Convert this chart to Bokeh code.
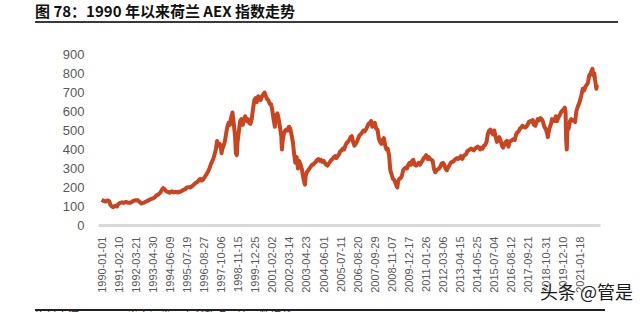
import pandas as pd
from bokeh.plotting import figure
from bokeh.models import Div, FixedTicker, Range1d
from bokeh.layouts import column
from bokeh.embed import file_html
from bokeh.resources import INLINE

title_text = "图 78：1990 年以来荷兰 AEX 指数走势"
source_text = "资料来源：Wind，光大证券研究所整理　注：数据截至 2022-3-10"
watermark_text = "头条 @管是"

tick_dates = ["1990-01-01", "1991-02-10", "1992-03-21", "1993-04-30", "1994-06-09",
              "1995-07-19", "1996-08-27", "1997-10-06", "1998-11-15", "1999-12-25",
              "2001-02-02", "2002-03-14", "2003-04-23", "2004-06-01", "2005-07-11",
              "2006-08-20", "2007-09-29", "2008-11-07", "2009-12-17", "2011-01-26",
              "2012-03-06", "2013-04-15", "2014-05-25", "2015-07-04", "2016-08-12",
              "2017-09-21", "2018-10-31", "2019-12-10", "2021-01-18"]
y_ticks = [0, 100, 200, 300, 400, 500, 600, 700, 800, 900]

t = [1990.00, 1990.08, 1990.17, 1990.25, 1990.33, 1990.42, 1990.50, 1990.58, 1990.67, 1990.75, 1990.83, 1990.92,
     1991.00, 1991.08, 1991.17, 1991.25, 1991.33, 1991.42, 1991.50, 1991.58, 1991.67, 1991.75, 1991.83, 1991.92,
     1992.00, 1992.08, 1992.17, 1992.25, 1992.33, 1992.42, 1992.50, 1992.58, 1992.67, 1992.75, 1992.83, 1992.92,
     1993.00, 1993.08, 1993.17, 1993.25, 1993.33, 1993.42, 1993.50, 1993.58, 1993.67, 1993.75, 1993.83, 1993.92,
     1994.00, 1994.08, 1994.17, 1994.25, 1994.33, 1994.42, 1994.50, 1994.58, 1994.67, 1994.75, 1994.83, 1994.92,
     1995.00, 1995.08, 1995.17, 1995.25, 1995.33, 1995.42, 1995.50, 1995.58, 1995.67, 1995.75, 1995.83, 1995.92,
     1996.00, 1996.08, 1996.17, 1996.25, 1996.33, 1996.42, 1996.50, 1996.58, 1996.67, 1996.75, 1996.83, 1996.92,
     1997.00, 1997.08, 1997.17, 1997.25, 1997.33, 1997.42, 1997.50, 1997.58, 1997.67, 1997.75, 1997.79, 1997.83, 1997.92,
     1998.00, 1998.08, 1998.17, 1998.25, 1998.33, 1998.42, 1998.50, 1998.58, 1998.67, 1998.72, 1998.78, 1998.83, 1998.92,
     1999.00, 1999.08, 1999.17, 1999.25, 1999.33, 1999.42, 1999.50, 1999.58, 1999.67, 1999.75, 1999.83, 1999.92,
     2000.00, 2000.08, 2000.17, 2000.25, 2000.33, 2000.42, 2000.50, 2000.58, 2000.67, 2000.75, 2000.83, 2000.92,
     2001.00, 2001.08, 2001.17, 2001.25, 2001.33, 2001.42, 2001.50, 2001.58, 2001.67, 2001.71, 2001.75, 2001.83, 2001.92,
     2002.00, 2002.08, 2002.17, 2002.25, 2002.33, 2002.42, 2002.50, 2002.58, 2002.67, 2002.75, 2002.83, 2002.92,
     2003.00, 2003.08, 2003.17, 2003.21, 2003.25, 2003.33, 2003.42, 2003.50, 2003.58, 2003.67, 2003.75, 2003.83, 2003.92,
     2004.00, 2004.08, 2004.17, 2004.25, 2004.33, 2004.42, 2004.50, 2004.58, 2004.67, 2004.75, 2004.83, 2004.92,
     2005.00, 2005.08, 2005.17, 2005.25, 2005.33, 2005.42, 2005.50, 2005.58, 2005.67, 2005.75, 2005.83, 2005.92,
     2006.00, 2006.08, 2006.17, 2006.25, 2006.33, 2006.42, 2006.50, 2006.58, 2006.67, 2006.75, 2006.83, 2006.92,
     2007.00, 2007.08, 2007.17, 2007.25, 2007.33, 2007.42, 2007.50, 2007.58, 2007.67, 2007.75, 2007.83, 2007.92,
     2008.00, 2008.08, 2008.17, 2008.25, 2008.33, 2008.42, 2008.50, 2008.58, 2008.67, 2008.75, 2008.83, 2008.92,
     2009.00, 2009.08, 2009.17, 2009.21, 2009.25, 2009.33, 2009.42, 2009.50, 2009.58, 2009.67, 2009.75, 2009.83, 2009.92,
     2010.00, 2010.08, 2010.17, 2010.25, 2010.33, 2010.42, 2010.50, 2010.58, 2010.67, 2010.75, 2010.83, 2010.92,
     2011.00, 2011.08, 2011.17, 2011.25, 2011.33, 2011.42, 2011.50, 2011.58, 2011.67, 2011.75, 2011.83, 2011.92,
     2012.00, 2012.08, 2012.17, 2012.25, 2012.33, 2012.42, 2012.50, 2012.58, 2012.67, 2012.75, 2012.83, 2012.92,
     2013.00, 2013.08, 2013.17, 2013.25, 2013.33, 2013.42, 2013.50, 2013.58, 2013.67, 2013.75, 2013.83, 2013.92,
     2014.00, 2014.08, 2014.17, 2014.25, 2014.33, 2014.42, 2014.50, 2014.58, 2014.67, 2014.75, 2014.83, 2014.92,
     2015.00, 2015.08, 2015.17, 2015.25, 2015.33, 2015.42, 2015.50, 2015.58, 2015.67, 2015.75, 2015.83, 2015.92,
     2016.00, 2016.08, 2016.17, 2016.25, 2016.33, 2016.42, 2016.50, 2016.58, 2016.67, 2016.75, 2016.83, 2016.92,
     2017.00, 2017.08, 2017.17, 2017.25, 2017.33, 2017.42, 2017.50, 2017.58, 2017.67, 2017.75, 2017.83, 2017.92,
     2018.00, 2018.08, 2018.17, 2018.25, 2018.33, 2018.42, 2018.50, 2018.58, 2018.67, 2018.75, 2018.83, 2018.92, 2018.98,
     2019.08, 2019.17, 2019.25, 2019.33, 2019.42, 2019.50, 2019.58, 2019.67, 2019.75, 2019.83, 2019.92,
     2020.00, 2020.08, 2020.13, 2020.17, 2020.21, 2020.25, 2020.33, 2020.42, 2020.50, 2020.58, 2020.67, 2020.75, 2020.83, 2020.92,
     2021.00, 2021.08, 2021.17, 2021.25, 2021.33, 2021.42, 2021.50, 2021.58, 2021.67, 2021.75, 2021.83, 2021.88, 2021.92,
     2022.00, 2022.04, 2022.08, 2022.13, 2022.17]

aex = [135, 132, 128, 126, 130, 132, 127, 108, 100, 97, 102, 104,
       100, 112, 118, 120, 122, 119, 121, 124, 121, 120, 119, 122,
       126, 130, 133, 131, 134, 128, 122, 116, 118, 120, 124, 128,
       130, 134, 138, 140, 143, 146, 152, 160, 162, 168, 175, 188,
       197, 192, 182, 178, 176, 172, 178, 180, 174, 176, 178, 174,
       178, 176, 180, 184, 188, 190, 198, 200, 202, 200, 204, 210,
       216, 222, 226, 232, 240, 246, 236, 240, 252, 262, 272, 284,
       300, 318, 336, 350, 372, 400, 445, 420, 430, 410, 380, 400, 420,
       440, 480, 520, 540, 530, 570, 595, 540, 470, 380, 370, 440, 500,
       550, 560, 530, 560, 575, 550, 560, 540, 535, 560, 610, 660,
       670, 650, 680, 670, 660, 680, 690, 700, 680, 665, 660, 640,
       640, 610, 560, 520, 580, 590, 560, 520, 470, 400, 440, 480, 500,
       505, 500, 520, 510, 480, 440, 380, 330, 360, 300, 340, 320,
       300, 260, 225, 215, 260, 280, 290, 300, 310, 320, 320, 330, 335,
       345, 350, 340, 345, 335, 340, 330, 320, 315, 325, 335, 345,
       350, 360, 365, 355, 365, 375, 390, 395, 405, 400, 420, 435,
       440, 450, 465, 470, 440, 420, 430, 440, 460, 475, 480, 490,
       500, 495, 505, 520, 535, 540, 550, 520, 530, 540, 510, 505,
       460, 440, 430, 450, 460, 420, 400, 405, 370, 290, 270, 245,
       240, 225, 205, 200, 230, 245, 250, 260, 290, 300, 305, 300, 320,
       330, 320, 340, 345, 320, 315, 320, 330, 320, 330, 340, 355,
       360, 370, 350, 360, 350, 345, 340, 300, 280, 290, 295, 300,
       310, 325, 330, 320, 300, 290, 305, 315, 330, 335, 335, 345,
       350, 355, 350, 355, 365, 350, 365, 370, 375, 390, 395, 400,
       405, 400, 395, 405, 410, 415, 410, 400, 410, 405, 420, 425,
       440, 480, 500, 505, 490, 480, 500, 470, 440, 455, 465, 445,
       420, 410, 430, 440, 445, 415, 440, 445, 450, 455, 450, 480,
       490, 495, 510, 515, 525, 520, 515, 520, 530, 545, 550, 545,
       555, 530, 525, 545, 560, 555, 565, 560, 545, 520, 510, 490, 465,
       510, 530, 560, 555, 550, 575, 550, 570, 580, 595, 605,
       610, 620, 600, 450, 400, 500, 510, 550, 560, 555, 550, 545, 600, 625,
       640, 660, 690, 720, 710, 730, 740, 750, 790, 800, 815, 825, 790,
       800, 770, 750, 720, 740]

tick_pos = [1990 + (pd.Timestamp(d) - pd.Timestamp("1990-01-01")).days / 365.25 for d in tick_dates]

TEXT = "#595959"
LINE = "#C9441F"

p = figure(width=640, height=276, output_backend="svg", toolbar_location=None,
           x_range=Range1d(1989.8, 2022.4), y_range=Range1d(0, 900),
           min_border_left=98, min_border_right=40, min_border_top=28, min_border_bottom=77,
           margin=0)
p.outline_line_color = None
p.background_fill_color = "white"
p.border_fill_color = "white"
p.xgrid.visible = False
p.ygrid.visible = False

p.line(t, aex, line_color=LINE, line_width=4, line_join="round")

p.xaxis.ticker = FixedTicker(ticks=tick_pos)
p.xaxis.major_label_overrides = {tp: d for tp, d in zip(tick_pos, tick_dates)}
p.xaxis.major_label_orientation = 1.5708
p.xaxis.major_label_text_font = "Liberation Sans"
p.xaxis.major_label_text_font_size = "11px"
p.xaxis.major_label_text_color = TEXT
p.xaxis.axis_line_color = "#D9D9D9"
p.xaxis.axis_line_width = 3
p.xaxis.major_tick_line_color = None
p.xaxis.minor_tick_line_color = None
p.xaxis.major_label_standoff = 5

p.yaxis.ticker = FixedTicker(ticks=y_ticks)
p.yaxis.major_label_text_font = "Liberation Sans"
p.yaxis.major_label_text_font_size = "13px"
p.yaxis.major_label_text_color = TEXT
p.yaxis.axis_line_color = None
p.yaxis.major_tick_line_color = None
p.yaxis.minor_tick_line_color = None
p.yaxis.major_label_standoff = 8

title = Div(width=640, height=26, margin=0, text=(
    '<div style="margin-left:35px;width:583px;height:23px;border-bottom:2px solid #3a3a3a;'
    'font-family:\'Noto Sans CJK SC\';font-weight:bold;font-size:15px;line-height:22px;color:#111;'
    'white-space:nowrap;">' + title_text + '</div>'))
footer = Div(width=640, height=10, margin=0, styles={"overflow": "visible", "z-index": "5"}, text=(
    '<div style="position:relative;width:640px;height:10px;">'
    '<div style="position:absolute;left:35px;top:5px;width:570px;height:5px;overflow:hidden;'
    'border-top:2px solid #222;font-family:\'Noto Sans CJK SC\';font-size:11px;line-height:11px;'
    'color:#222;white-space:nowrap;"><div style="margin-top:0px;">' + source_text + '</div></div>'
    '<div style="position:absolute;left:540px;top:-24px;font-family:\'Noto Sans CJK SC\';'
    'font-size:18px;line-height:22px;color:#1a1a1a;white-space:nowrap;'
    'text-shadow:0 0 2px #fff,0 0 2px #fff;">' + watermark_text + '</div>'
    '</div>'))

layout = column(title, p, footer, spacing=0)
open("out.html", "w").write(file_html(layout, INLINE))
